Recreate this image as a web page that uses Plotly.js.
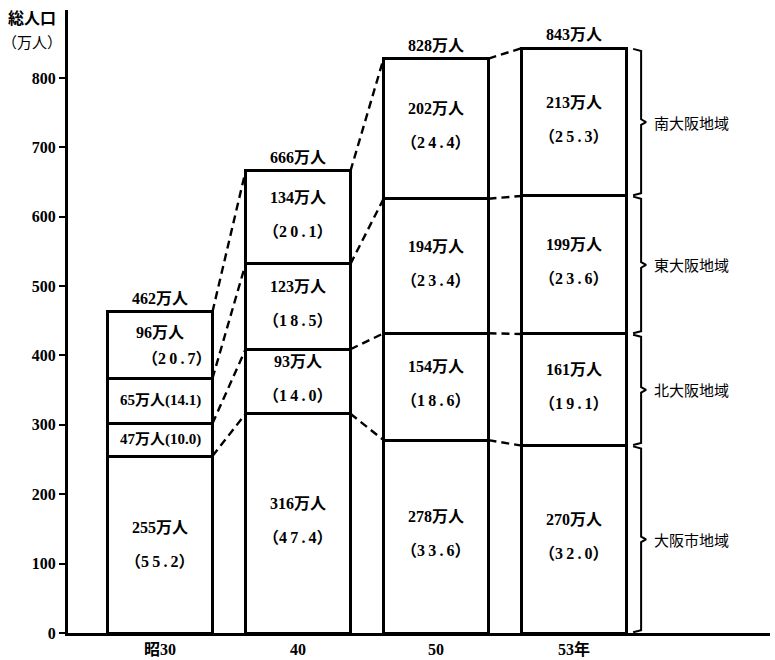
<!DOCTYPE html>
<html>
<head>
<meta charset="utf-8">
<script src="https://cdn.plot.ly/plotly-3.0.1.min.js"></script>
<style>html,body{margin:0;padding:0;background:#fff;}#chart{width:775px;height:660px;}</style>
</head>
<body>
<div id="chart"></div>
<script>
// ---- data ----
const years = ['昭30', '40', '50', '53年'];
const osakaCity = [255, 316, 278, 270];
const northOsaka = [47, 93, 154, 161];
const eastOsaka = [65, 123, 194, 199];
const southOsaka = [96, 134, 202, 213];
const pctCity = ['55.2', '47.4', '33.6', '32.0'];
const pctNorth = ['10.0', '14.0', '18.6', '19.1'];
const pctEast = ['14.1', '18.5', '23.4', '23.6'];
const pctSouth = ['20.7', '20.1', '24.4', '25.3'];
const totals = [462, 666, 828, 843];
const regionNames = ['大阪市地域', '北大阪地域', '東大阪地域', '南大阪地域'];
const yTicks = [0, 100, 200, 300, 400, 500, 600, 700, 800];
const yTitleLines = ['総人口', '（万人）'];

// ---- build ----
const series = [osakaCity, northOsaka, eastOsaka, southOsaka];
const pcts = [pctCity, pctNorth, pctEast, pctSouth];
const xs = years.map((_, i) => i);
const BW = 0.76;
const serifFont = '"Liberation Serif", "Noto Sans CJK JP", serif';
const sansFont = '"Noto Sans CJK JP", "Noto Sans", sans-serif';
const lblFont = {family: serifFont, size: 16, color: '#000', weight: 'bold'};
const spaced = t => t.split('').join('\u2009');

const traces = [];
series.forEach((s, k) => {
  traces.push({
    type: 'bar', x: xs, y: s, width: BW,
    marker: {color: '#ffffff', line: {color: '#000', width: 3}},
    hoverinfo: 'skip', showlegend: false
  });
});

// cumulative boundaries
const cum = series.map((_, k) => xs.map(i => series.slice(0, k + 1).reduce((a, s) => a + s[i], 0)));

// dashed connectors
for (let k = 0; k < series.length; k++) {
  for (let i = 0; i < xs.length - 1; i++) {
    traces.push({
      type: 'scatter', mode: 'lines',
      x: [xs[i] + BW / 2, xs[i + 1] - BW / 2],
      y: [cum[k][i], cum[k][i + 1]],
      line: {color: '#000', width: 2.4, dash: '8px,5px'},
      hoverinfo: 'skip', showlegend: false
    });
  }
}

// braces for last bar
const last = xs.length - 1;
const xb0 = last + 0.428, xb1 = last + 0.486, xb2 = last + 0.522;
series.forEach((s, k) => {
  const top = cum[k][last];
  const bot = top - s[last];
  const mid = (top + bot) / 2;
  const d = 4;
  traces.push({
    type: 'scatter', mode: 'lines',
    x: [xb0, xb1, xb1, xb2, xb1, xb1, xb0],
    y: [top - 1, top - d, mid + d, mid, mid - d, bot + d, bot + 1],
    line: {color: '#000', width: 2},
    hoverinfo: 'skip', showlegend: false
  });
});

const annotations = [];
// segment labels
series.forEach((s, k) => {
  xs.forEach(i => {
    const mid = cum[k][i] - s[i] / 2;
    if (i === 0 && (k === 1 || k === 2)) {
      annotations.push({x: i, y: mid, xref: 'x', yref: 'y', showarrow: false,
        text: s[i] + '万人(' + pcts[k][i] + ')',
        font: {family: serifFont, size: 15, color: '#000', weight: 'bold'}});
    } else {
      const sh = (i === 0 && k === 3) ? 13 : 17;
      const off = (i === 0) ? 0 : 3;
      annotations.push({x: i, y: mid, xref: 'x', yref: 'y', showarrow: false, yshift: sh + off,
        text: s[i] + '万人', font: lblFont});
      annotations.push({x: i + (i === 0 && k === 3 ? 0.12 : 0), y: mid, xref: 'x', yref: 'y', showarrow: false, yshift: -sh + off,
        text: '（' + spaced(pcts[k][i]) + '）', font: lblFont});
    }
  });
});
// totals
xs.forEach(i => {
  annotations.push({x: i, y: cum[3][i], xref: 'x', yref: 'y', showarrow: false,
    yanchor: 'bottom', yshift: 3,
    text: totals[i] + '万人', font: lblFont});
});
// region labels
series.forEach((s, k) => {
  annotations.push({x: last + 0.565, y: cum[k][last] - s[last] / 2, xref: 'x', yref: 'y',
    showarrow: false, xanchor: 'left',
    text: regionNames[k], font: {family: sansFont, size: 15, color: '#000'}});
});
// y axis title (two lines)
annotations.push({x: -0.088, y: 0.988, xref: 'paper', yref: 'paper', showarrow: false,
  xanchor: 'left', yanchor: 'middle',
  text: '<b>' + yTitleLines[0] + '</b>', font: {family: sansFont, size: 16, color: '#000'}});
annotations.push({x: -0.097, y: 0.950, xref: 'paper', yref: 'paper', showarrow: false,
  xanchor: 'left', yanchor: 'middle',
  text: yTitleLines[1], font: {family: sansFont, size: 15, color: '#000'}});

const layout = {
  width: 775, height: 660,
  margin: {l: 68, r: 5, t: 10, b: 27},
  paper_bgcolor: '#fff', plot_bgcolor: '#fff',
  barmode: 'stack',
  showlegend: false,
  xaxis: {
    range: [-0.667, 4.42], showgrid: false, zeroline: false,
    showline: true, linecolor: '#000', linewidth: 3,
    tickvals: xs, ticktext: years, ticks: '',
    tickfont: {family: serifFont, size: 16, color: '#000', weight: 'bold'},
    fixedrange: true
  },
  yaxis: {
    range: [0, 898], showgrid: false, zeroline: false,
    showline: true, linecolor: '#000', linewidth: 3,
    tickvals: yTicks, ticks: 'outside', ticklen: 6, tickwidth: 2, tickcolor: '#000',
    tickfont: {family: serifFont, size: 16, color: '#000', weight: 'bold'},
    fixedrange: true
  },
  annotations: annotations
};

Plotly.newPlot('chart', traces, layout, {displayModeBar: false, staticPlot: true});
</script>
</body>
</html>
